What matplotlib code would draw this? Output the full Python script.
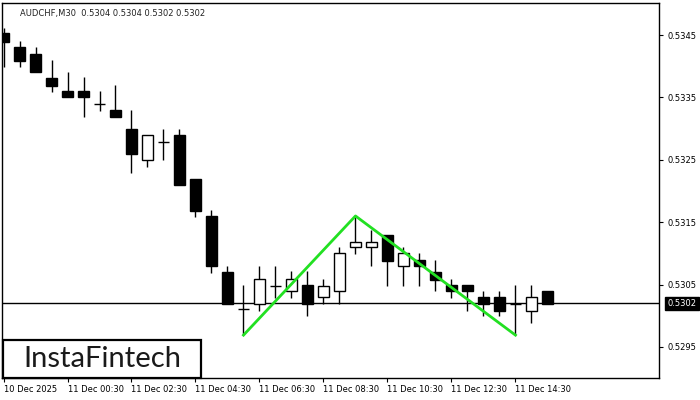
import matplotlib.pyplot as plt
from matplotlib.patches import Rectangle
from matplotlib.transforms import blended_transform_factory

# AUDCHF M30 candles, 10 Dec 22:30 onwards
opens = [0.53453, 0.53431, 0.53420, 0.53381, 0.53361, 0.53361, 0.53339, 0.53330,
         0.53300, 0.53249, 0.53279, 0.53290, 0.53219, 0.53160, 0.53070, 0.53011,
         0.53019, 0.53048, 0.53039, 0.53049, 0.53030, 0.53039, 0.53110, 0.53110,
         0.53129, 0.53079, 0.53089, 0.53070, 0.53049, 0.53049, 0.53030, 0.53030,
         0.53019, 0.53008, 0.53040]
highs = [0.53461, 0.53441, 0.53431, 0.53410, 0.53391, 0.53382, 0.53361, 0.53370,
         0.53330, 0.53290, 0.53300, 0.53300, 0.53219, 0.53170, 0.53080, 0.53049,
         0.53080, 0.53080, 0.53071, 0.53071, 0.53059, 0.53111, 0.53159, 0.53138,
         0.53129, 0.53110, 0.53100, 0.53089, 0.53059, 0.53049, 0.53039, 0.53039,
         0.53049, 0.53049, 0.53040]
lows = [0.53399, 0.53399, 0.53390, 0.53359, 0.53350, 0.53319, 0.53329, 0.53319,
        0.53229, 0.53239, 0.53249, 0.53209, 0.53159, 0.53069, 0.53019, 0.52969,
        0.53008, 0.53028, 0.53028, 0.52999, 0.53019, 0.53019, 0.53099, 0.53079,
        0.53048, 0.53048, 0.53048, 0.53039, 0.53029, 0.53008, 0.52999, 0.52999,
        0.52969, 0.52989, 0.53019]
closes = [0.53439, 0.53409, 0.53390, 0.53369, 0.53350, 0.53350, 0.53339, 0.53319,
          0.53259, 0.53290, 0.53279, 0.53209, 0.53168, 0.53079, 0.53019, 0.53011,
          0.53059, 0.53048, 0.53059, 0.53019, 0.53048, 0.53100, 0.53119, 0.53119,
          0.53088, 0.53100, 0.53079, 0.53057, 0.53039, 0.53039, 0.53019, 0.53008,
          0.53019, 0.53030, 0.53019]

xtick_idx = [0, 4, 8, 12, 16, 20, 24, 28, 32]
xtick_labels = ["10 Dec 2025", "11 Dec 00:30", "11 Dec 02:30", "11 Dec 04:30",
                "11 Dec 06:30", "11 Dec 08:30", "11 Dec 10:30", "11 Dec 12:30",
                "11 Dec 14:30"]
yticks = [0.5295, 0.5305, 0.5315, 0.5325, 0.5335, 0.5345]

# double top pattern
pattern_x = [15, 22, 32]
pattern_y = [0.52969, 0.53160, 0.52969]
last_price = 0.5302

fig = plt.figure(figsize=(7, 4), dpi=100)
ax = fig.add_axes([2 / 700, 22 / 400, 657 / 700, 375 / 400])

w = 0.69
for i in range(len(opens)):
    o, h, l, c = opens[i], highs[i], lows[i], closes[i]
    top, bot = max(o, c), min(o, c)
    if h > top:
        ax.vlines(i, top, h, color="black", lw=1, zorder=2)
    if l < bot:
        ax.vlines(i, l, bot, color="black", lw=1, zorder=2)
    if o == c:
        ax.hlines(o, i - w / 2, i + w / 2, color="black", lw=1, zorder=2)
    else:
        face = "black" if c < o else "white"
        ax.bar(i, top - bot, bottom=bot, width=w, color=face,
               edgecolor="black", lw=1, zorder=3)

ax.axhline(last_price, color="black", lw=1, zorder=1)
ax.plot(pattern_x, pattern_y, color="#22e022", lw=2, zorder=4)

ax.set_xlim(-0.094, 40.97)
ax.set_ylim(0.529003, 0.535013)

ax.yaxis.tick_right()
ax.set_yticks(yticks)
ax.set_yticklabels(["%.4f" % v for v in yticks])
ax.set_xticks(xtick_idx)
ax.set_xticklabels(xtick_labels, ha="left")
ax.tick_params(axis="both", labelsize=6, length=3, width=0.8, pad=2, colors="black")
ax.tick_params(axis="y", pad=3)
for s in ax.spines.values():
    s.set_linewidth(1)

# current price label
tr = blended_transform_factory(ax.transAxes, ax.transData)
ax.text(1.013, last_price, "0.5302", transform=tr, fontsize=6, color="white",
        va="center", ha="left",
        bbox=dict(boxstyle="square,pad=0.25", fc="black", ec="black"))

ax.text(0.027, 0.985, "AUDCHF,M30  0.5304 0.5304 0.5302 0.5302", transform=ax.transAxes,
        fontsize=6, color="#222222", va="top", ha="left")

# logo box
fig.patches.append(Rectangle((3 / 700, 22 / 400), 198 / 700, 38 / 400, transform=fig.transFigure,
                             fc="white", ec="black", lw=1.6, zorder=5))
fig.text(102 / 700, 41 / 400, "InstaFintech", fontsize=21, family="Lato",
         color="#1a1a1a", ha="center", va="center", zorder=6)

fig.savefig("out.png", dpi=100)
